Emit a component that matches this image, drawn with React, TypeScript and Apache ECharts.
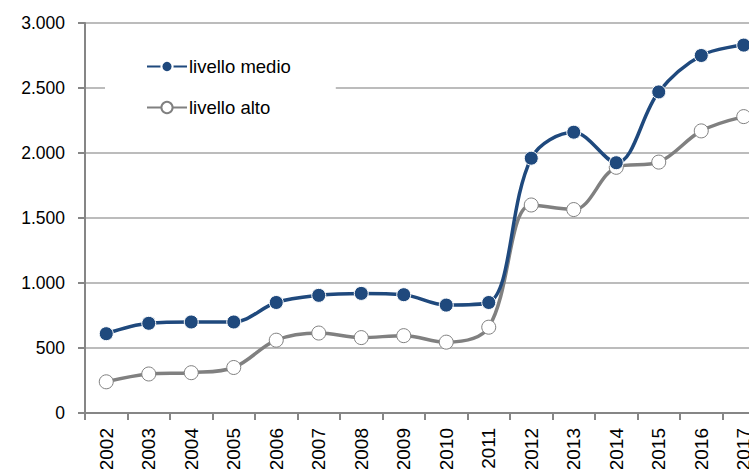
import React, { useEffect, useRef } from "react";
import * as echarts from "echarts";

const years = ["2002","2003","2004","2005","2006","2007","2008","2009","2010","2011","2012","2013","2014","2015","2016","2017"];
const livelloMedio = [610, 690, 700, 700, 850, 905, 920, 910, 830, 850, 1960, 2160, 1925, 2470, 2750, 2830];
const livelloAlto = [240, 300, 310, 350, 560, 615, 580, 595, 545, 660, 1600, 1565, 1890, 1930, 2170, 2280];

const FONT = "Liberation Sans";

export default function App() {
  const ref = useRef<HTMLDivElement>(null);
  useEffect(() => {
    document.body.style.margin = "0";
    const chart = echarts.init(ref.current!, null, { renderer: "svg" });
    chart.setOption({
      animation: false,
      backgroundColor: "#ffffff",
      grid: { left: 85, top: 23, width: 680, height: 390, containLabel: false, outerBoundsMode: "none" },
      legend: {
        orient: "vertical",
        left: 105,
        top: 40,
        padding: [17, 45, 17, 41],
        backgroundColor: "#ffffff",
        itemWidth: 40,
        itemHeight: 14,
        itemGap: 22,
        textStyle: { fontFamily: FONT, fontSize: 18.5, color: "#000", padding: [0, 0, 0, -3] },
        data: ["livello medio", "livello alto"],
      },
      xAxis: {
        type: "category",
        data: years,
        boundaryGap: true,
        axisLine: { lineStyle: { color: "#868686", width: 2 } },
        axisTick: { show: true, length: 7, lineStyle: { color: "#868686", width: 2 } },
        axisLabel: { rotate: 90, margin: 15, fontFamily: FONT, fontSize: 19, color: "#000", interval: 0 },
        splitLine: { show: false },
      },
      yAxis: {
        type: "value",
        min: 0,
        max: 3000,
        interval: 500,
        axisLine: { show: true, lineStyle: { color: "#868686", width: 2 } },
        axisTick: { show: true, length: 7, lineStyle: { color: "#868686", width: 2 } },
        axisLabel: {
          margin: 20,
          fontFamily: FONT,
          fontSize: 17.5,
          color: "#000",
          formatter: (v: number) => (v >= 1000 ? `${Math.floor(v / 1000)}.${String(v % 1000).padStart(3, "0")}` : String(v)),
        },
        splitLine: { lineStyle: { color: "#a6a6a6", width: 1.5 } },
      },
      series: [
        {
          name: "livello medio",
          type: "line",
          data: livelloMedio,
          smooth: 0.35,
          symbol: "circle",
          symbolSize: 14,
          lineStyle: { color: "#1f497d", width: 3.5 },
          itemStyle: { color: "#1f497d", borderColor: "#ffffff", borderWidth: 1 },
          z: 3,
        },
        {
          name: "livello alto",
          type: "line",
          data: livelloAlto,
          smooth: 0.35,
          symbol: "circle",
          symbolSize: 14,
          lineStyle: { color: "#808080", width: 3.5 },
          itemStyle: { color: "#ffffff", borderColor: "#808080", borderWidth: 1 },
          z: 2,
        },
      ],
    });
    return () => chart.dispose();
  }, []);
  return <div ref={ref} style={{ width: 749, height: 469 }} />;
}
